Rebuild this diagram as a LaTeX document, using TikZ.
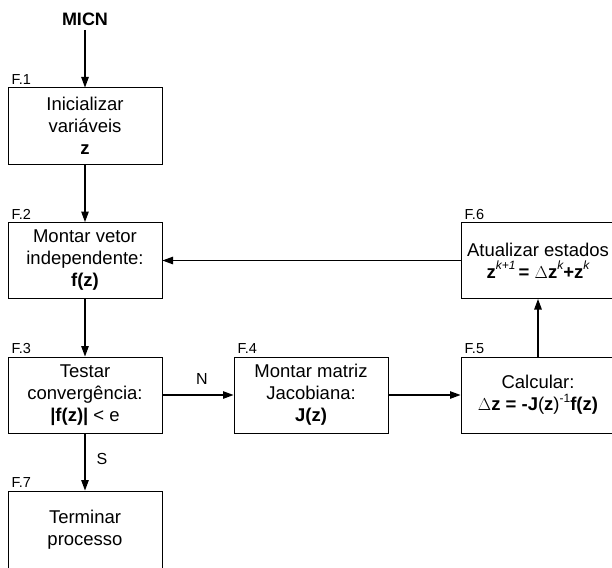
\documentclass[tikz,border=0pt]{standalone}
\usepackage{fontspec}
\setmainfont{Liberation Sans}
\usetikzlibrary{arrows.meta}
\newcommand{\supit}[1]{\raisebox{0.45em}{\fontsize{12}{12}\selectfont\mdseries\itshape #1}}
\newcommand{\supup}[1]{\raisebox{0.45em}{\fontsize{12}{12}\selectfont\mdseries #1}}
\begin{document}
\begin{tikzpicture}[x=1pt,y=-1pt,
  box/.style={draw, line width=1pt, minimum width=154pt, minimum height=76pt, inner sep=0pt,
    align=center, font=\fontsize{18.5}{22}\selectfont},
  flabel/.style={anchor=base west, inner sep=0pt, xshift=4pt, yshift=3pt, font=\fontsize{14.5}{14.5}\selectfont},
  elabel/.style={inner sep=0pt, font=\fontsize{16}{16}\selectfont},
  arr/.style={line width=1.1pt, -{Triangle[length=10.5pt,width=7.5pt]}}]
\useasboundingbox (0,0) rectangle (612,567);
\clip (0,0) rectangle (612,567);

\node[font=\fontsize{18}{18}\selectfont\bfseries, inner sep=0pt] (micn) at (85,19) {MICN};
\coordinate (micnend) at (85,30);

\node[box] (f1) at (85,126) {Inicializar\\variáveis\\\textbf{z}};
\node[box] (f2) at (85,260.5) {Montar vetor\\independente:\\\textbf{f(z)}};
\node[box] (f3) at (85,395) {Testar\\convergência:\\\textbf{|f(z)|} < e};
\node[box, minimum height=78pt] (f7) at (85,530) {Terminar\\processo};
\node[box] (f4) at (311,395) {Montar matriz\\Jacobiana:\\\textbf{J(z)}};
\node[box] (f5) at (538,395) {Calcular:\\$\Delta$\textbf{z = -J}(\textbf{z})\supup{-1}\textbf{f(z)}};
\node[box] (f6) at (538,260.5) {Atualizar estados\\\textbf{z}\supit{k+1}\,\textbf{=} $\Delta$\textbf{z}\supit{k}\textbf{+z}\supit{k}};

\node[flabel] (l1) at (f1.north west) {F.1};
\node[flabel] (l2) at (f2.north west) {F.2};
\node[flabel] (l3) at (f3.north west) {F.3};
\node[flabel] (l4) at (f4.north west) {F.4};
\node[flabel] (l5) at (f5.north west) {F.5};
\node[flabel] (l6) at (f6.north west) {F.6};
\node[flabel] (l7) at (f7.north west) {F.7};

\draw[arr] (micnend) -- (f1.north);
\draw[arr] (f1.south) -- (f2.north);
\draw[arr] (f2.south) -- (f3.north);
\draw[arr] (f3.south) -- node[elabel, right, xshift=11pt, yshift=3pt] (s) {S} (f7.north);
\draw[arr] (f3.east) -- node[elabel, above, yshift=10pt, xshift=4pt] (n) {N} (f4.west);
\draw[arr] (f4.east) -- (f5.west);
\draw[arr] (f5.north) -- (f6.south);
\draw[arr] (f6.west) -- (f2.east);
\end{tikzpicture}
\end{document}
